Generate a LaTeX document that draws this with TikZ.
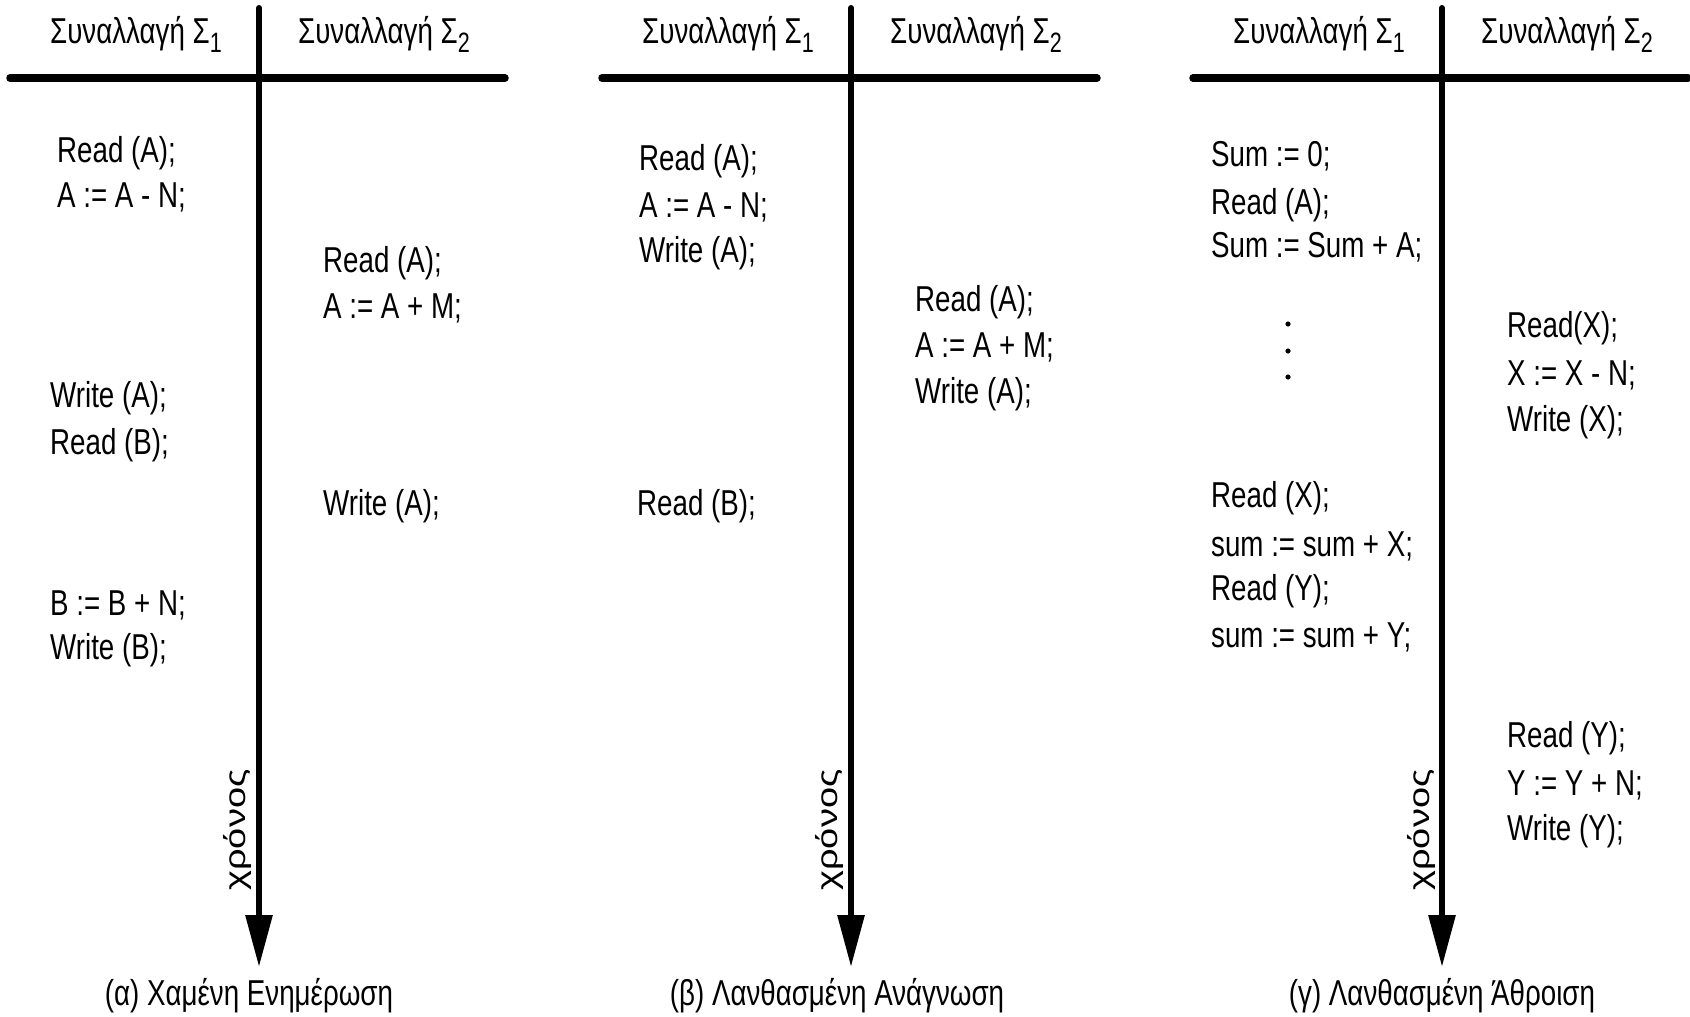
\documentclass[tikz,border=0pt]{standalone}
\usepackage{graphicx}
\usepackage{fontspec}
\setmainfont{Liberation Sans}[FakeStretch=0.77]
\newfontfamily\plainsans{Liberation Sans}
\usetikzlibrary{arrows.meta}
% lowered index digit after a transaction symbol
\newcommand\txsub[1]{\raisebox{-9pt}{\fontsize{28}{28}\selectfont #1}}

\begin{document}
\begin{tikzpicture}[x=1pt,y=-1pt,
  stmt/.style={anchor=base west, inner sep=0pt, font=\fontsize{36}{43}\selectfont},
  hdr/.style={anchor=base west, inner sep=0pt, font=\fontsize{36}{43}\selectfont},
  caption/.style={anchor=base, inner sep=0pt, font=\fontsize{36}{43}\selectfont},
  timelbl/.style={rotate=90, inner sep=0pt, font=\plainsans\fontsize{38}{40}\selectfont},
  rule/.style={line width=7.5pt, line cap=round},
  axis/.style={line width=6pt, line cap=round, -{Triangle[length=52pt,width=26pt]}},
]
\useasboundingbox (0,0) rectangle (1690,1017);

% three schedules: header rule, time axis, column titles
\foreach \cx/\p in {259/a, 851/b, 1442/c} {
  \coordinate (top-\p) at (\cx,8);
  \coordinate (tip-\p) at (\cx,967);
  \coordinate (hl-\p) at (\cx-249,78);
  \coordinate (hr-\p) at (\cx+246,78);
  \draw[rule] (hl-\p) -- (hr-\p);
  \draw[axis] (top-\p) -- (tip-\p);
  \node[hdr] (h1-\p) at (\cx-209,43) {Συναλλαγή Σ\txsub{1}};
  \node[hdr] (h2-\p) at (\cx+39,43) {Συναλλαγή Σ\txsub{2}};
  \node[timelbl] (t-\p) at (\cx-21,830) {\scalebox{1}[0.77]{χρόνος}};
}

% (a) lost update
\node[stmt] (a1) at (57,162)   {Read (A);};
\node[stmt] (a2) at (57,207.5) {A := A - N;};
\node[stmt] (a3) at (323,272)  {Read (A);};
\node[stmt] (a4) at (323,318)  {A := A + M;};
\node[stmt] (a5) at (50,407.5) {Write (A);};
\node[stmt] (a6) at (50,454)   {Read (B);};
\node[stmt] (a7) at (323,515)  {Write (A);};
\node[stmt] (a8) at (50,615)   {B := B + N;};
\node[stmt] (a9) at (50,659)   {Write (B);};
\node[caption] (capa) at (249,1005) {(α) Χαμένη Ενημέρωση};

% (b) dirty read
\node[stmt] (b1) at (639,170) {Read (A);};
\node[stmt] (b2) at (639,217) {A := A - N;};
\node[stmt] (b3) at (639,262) {Write (A);};
\node[stmt] (b4) at (915,311) {Read (A);};
\node[stmt] (b5) at (915,357) {A := A + M;};
\node[stmt] (b6) at (915,403) {Write (A);};
\node[stmt] (b7) at (637,515) {Read (B);};
\node[caption] (capb) at (837,1005) {(β) Λανθασμένη Ανάγνωση};

% (c) incorrect summary
\node[stmt] (c1) at (1211,166)   {Sum := 0;};
\node[stmt] (c2) at (1211,214)   {Read (A);};
\node[stmt] (c3) at (1211,257.5) {Sum := Sum + A;};
\foreach \y in {324,351,377} \fill (1288,\y) circle (2.6);
\node[stmt] (c4) at (1507,337) {Read(X);};
\node[stmt] (c5) at (1507,385) {X := X - N;};
\node[stmt] (c6) at (1507,431) {Write (X);};
\node[stmt] (c7) at (1211,507.5) {Read (X);};
\node[stmt] (c8) at (1211,556)   {sum := sum + X;};
\node[stmt] (c9) at (1211,600)   {Read (Y);};
\node[stmt] (c10) at (1211,647)  {sum := sum + Y;};
\node[stmt] (c11) at (1507,747) {Read (Y);};
\node[stmt] (c12) at (1507,795) {Y := Y + N;};
\node[stmt] (c13) at (1507,840) {Write (Y);};
\node[caption] (capc) at (1442,1005) {(γ) Λανθασμένη Άθροιση};
\end{tikzpicture}
\end{document}
